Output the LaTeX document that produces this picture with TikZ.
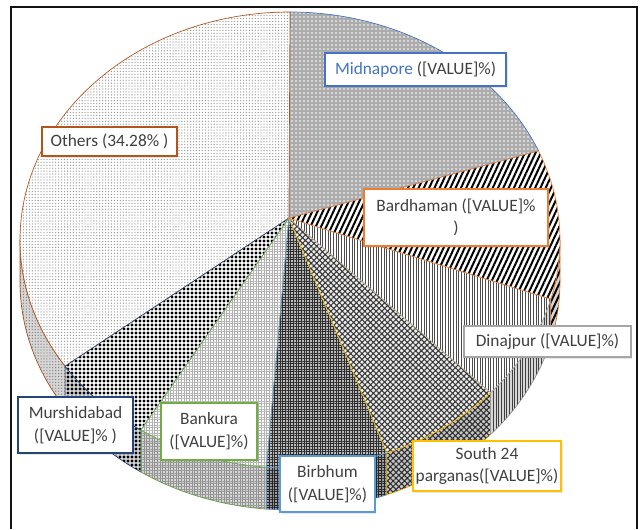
\documentclass[tikz,border=0pt]{standalone}
\usepackage{fontspec}
\setmainfont{Carlito}
\usepackage{tikz}
\usetikzlibrary{patterns.meta,shadows}
\definecolor{txtgray}{RGB}{64,64,64}
\definecolor{cMid}{RGB}{68,114,196}
\definecolor{cOth}{RGB}{178,84,28}
\definecolor{cBar}{RGB}{237,125,49}
\definecolor{cDin}{RGB}{165,165,165}
\definecolor{cSou}{RGB}{255,192,0}
\definecolor{cBir}{RGB}{91,155,213}
\definecolor{cBan}{RGB}{112,173,71}
\definecolor{cMur}{RGB}{38,68,120}

\begin{document}
\begin{tikzpicture}[x=0.75pt, y=-0.75pt,
  every node/.style={inner sep=2pt, text=txtgray, font=\fontsize{13}{17}\selectfont},
  lbl/.style={draw=#1, fill=white, line width=1.4pt, align=center,
    drop shadow={opacity=0.18, shadow xshift=1.2pt, shadow yshift=-1.2pt}},
  wallshade/.style={fill=black, fill opacity=0.16},
  sMid/.style={draw=cMid, line width=0.5pt, preaction={fill=gray!65},
    pattern={Dots[distance=3pt, radius=0.6pt]}, pattern color=white},
  sOth/.style={draw=cOth, line width=0.5pt, preaction={fill=white},
    pattern={Dots[distance=2.2pt, radius=0.5pt]}, pattern color=gray!80},
  sBar/.style={draw=cBar, line width=0.5pt, preaction={fill=white},
    pattern={Lines[angle=65, distance=3.6pt, line width=1.5pt]}, pattern color=black},
  sDin/.style={draw=cDin, line width=0.5pt, preaction={fill=white},
    pattern={Lines[angle=90, distance=2pt, line width=0.5pt]}, pattern color=gray!60!black},
  sSou/.style={draw=cSou, line width=0.5pt, preaction={fill=gray!15},
    pattern={Hatch[angle=45, distance=3pt, line width=0.8pt]}, pattern color=gray!45!black},
  sBir/.style={draw=cBir, line width=0.5pt, preaction={fill=gray!55},
    pattern={Hatch[angle=0, distance=2pt, line width=0.4pt]}, pattern color=gray!35!black},
  sBan/.style={draw=cBan, line width=0.5pt, preaction={fill=white},
    pattern={Hatch[angle=0, distance=2pt, line width=0.4pt]}, pattern color=gray!60},
  sMur/.style={draw=cMur, line width=0.5pt, preaction={fill=white},
    pattern={Dots[distance=3pt, radius=1.2pt]}, pattern color=black}]
  \useasboundingbox (0,0) rectangle (642,529);
  \draw[line width=1.3pt, gray!15!black] (11,529) -- (11,7) -- (637,7) -- (637,529);

  \begin{scope}[shift={(290,240)}, x=202.5pt, y=171pt]
    \coordinate (apex) at (-0.004,0.096);
    % side walls
    \path[sOth, postaction={wallshade}] (180:1) arc[start angle=180,end angle=213.6,radius=1]
      -- ++(0,-0.184) arc[start angle=213.6,end angle=180,radius=1] -- cycle;
    \path[sMur, postaction={wallshade}] (213.6:1) arc[start angle=213.6,end angle=236.5,radius=1]
      -- ++(0,-0.184) arc[start angle=236.5,end angle=213.6,radius=1] -- cycle;
    \path[sBan, postaction={wallshade}] (236.5:1) arc[start angle=236.5,end angle=265,radius=1]
      -- ++(0,-0.184) arc[start angle=265,end angle=236.5,radius=1] -- cycle;
    \path[sBir, postaction={wallshade}] (265:1) arc[start angle=265,end angle=291,radius=1]
      -- ++(0,-0.184) arc[start angle=291,end angle=265,radius=1] -- cycle;
    \path[sSou, postaction={wallshade}] (291:1) arc[start angle=291,end angle=318,radius=1]
      -- ++(0,-0.184) arc[start angle=318,end angle=291,radius=1] -- cycle;
    \path[sDin, postaction={wallshade}] (318:1) arc[start angle=318,end angle=345,radius=1]
      -- ++(0,-0.184) arc[start angle=345,end angle=318,radius=1] -- cycle;
    \path[sBar, postaction={wallshade}] (345:1) arc[start angle=345,end angle=360,radius=1]
      -- ++(0,-0.184) arc[start angle=360,end angle=345,radius=1] -- cycle;
    % top faces
    \path[sMid] (apex) -- (23:1) arc[start angle=23,end angle=90,radius=1] -- cycle;
    \path[sOth] (apex) -- (90:1) arc[start angle=90,end angle=213.6,radius=1] -- cycle;
    \path[sMur] (apex) -- (213.6:1) arc[start angle=213.6,end angle=236.5,radius=1] -- cycle;
    \path[sBan] (apex) -- (236.5:1) arc[start angle=236.5,end angle=265,radius=1] -- cycle;
    \path[sBir] (apex) -- (265:1) arc[start angle=265,end angle=291,radius=1] -- cycle;
    \path[sSou] (apex) -- (291:1) arc[start angle=291,end angle=318,radius=1] -- cycle;
    \path[sDin] (apex) -- (318:1) arc[start angle=318,end angle=345,radius=1] -- cycle;
    \path[sBar] (apex) -- (345:1) arc[start angle=345,end angle=383,radius=1] -- cycle;
  \end{scope}

  \node[lbl=cMid, minimum width=135.8pt, minimum height=24.8pt] (midnapore) at (415.5,69.5)
    {\textcolor{cMid}{Midnapore} ([VALUE]\%)};
  \node[lbl=cOth, minimum width=101pt, minimum height=22pt] (others) at (109.5,141.5)
    {Others (34.28\% )};
  \node[lbl=cBar, minimum width=138pt, minimum height=42.8pt] (bardhaman) at (456,217.5)
    {Bardhaman ([VALUE]\%\\)};
  \node[lbl=cDin, minimum width=125pt, minimum height=23.3pt] (dinajpur) at (547.5,341.5)
    {Dinajpur ([VALUE]\%)};
  \node[lbl=cSou, minimum width=109.5pt, minimum height=37.5pt] (south) at (487,466)
    {South 24\\parganas([VALUE]\%)};
  \node[lbl=cBir, minimum width=71pt, minimum height=42pt] (birbhum) at (327.5,484)
    {Birbhum\\([VALUE]\%)};
  \node[lbl=cBan, minimum width=72pt, minimum height=42.8pt] (bankura) at (209,431.5)
    {Bankura\\([VALUE]\%)};
  \node[lbl=cMur, minimum width=86pt, minimum height=42pt] (murshidabad) at (75.5,425)
    {Murshidabad\\([VALUE]\% )};
\end{tikzpicture}
\end{document}
